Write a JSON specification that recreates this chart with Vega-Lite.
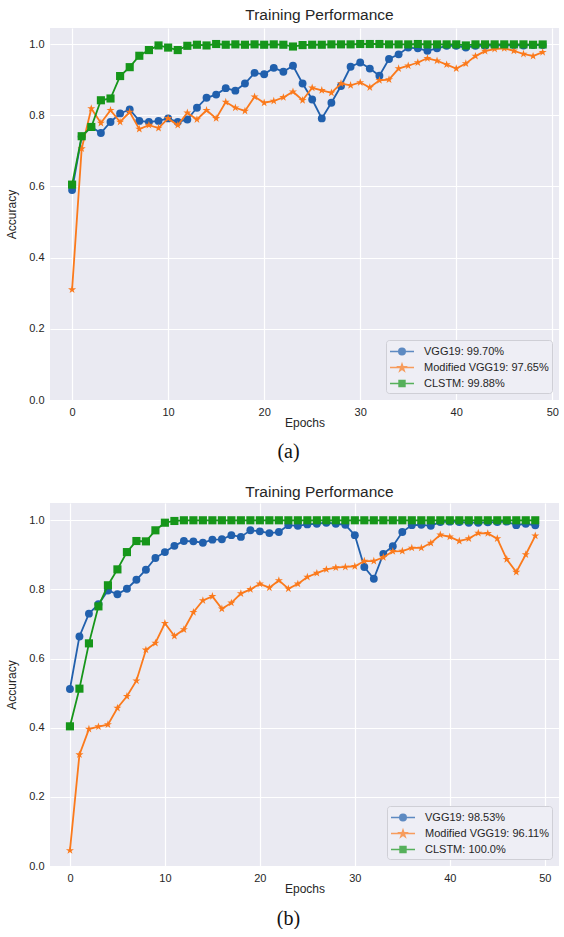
{
  "$schema": "https://vega.github.io/schema/vega-lite/v6.json",
  "background": "white",
  "padding": {"left": 5, "top": 7, "right": 0, "bottom": 0},
  "spacing": 12,
  "resolve": {"scale": {"color": "independent", "stroke": "independent", "shape": "independent"}, "legend": {"color": "independent", "stroke": "independent", "shape": "independent"}},
  "datasets": {
    "a": [
      {"e":0,"v":0.59,"m":0.31,"c":0.605},{"e":1,"v":0.74,"m":0.706,"c":0.741},{"e":2,"v":0.767,"m":0.819,"c":0.767},{"e":3,"v":0.75,"m":0.778,"c":0.842},{"e":4,"v":0.781,"m":0.814,"c":0.847},
      {"e":5,"v":0.805,"m":0.781,"c":0.91},{"e":6,"v":0.816,"m":0.809,"c":0.935},{"e":7,"v":0.784,"m":0.761,"c":0.967},{"e":8,"v":0.781,"m":0.772,"c":0.983},{"e":9,"v":0.784,"m":0.764,"c":0.996},
      {"e":10,"v":0.791,"m":0.791,"c":0.99},{"e":11,"v":0.781,"m":0.772,"c":0.983},{"e":12,"v":0.788,"m":0.807,"c":0.995},{"e":13,"v":0.821,"m":0.788,"c":0.998},{"e":14,"v":0.849,"m":0.814,"c":0.996},
      {"e":15,"v":0.858,"m":0.791,"c":1.0},{"e":16,"v":0.876,"m":0.837,"c":0.998},{"e":17,"v":0.869,"m":0.821,"c":0.999},{"e":18,"v":0.889,"m":0.812,"c":0.998},{"e":19,"v":0.919,"m":0.852,"c":0.999},
      {"e":20,"v":0.915,"m":0.835,"c":0.998},{"e":21,"v":0.933,"m":0.84,"c":0.999},{"e":22,"v":0.922,"m":0.85,"c":0.998},{"e":23,"v":0.939,"m":0.866,"c":0.993},{"e":24,"v":0.889,"m":0.842,"c":0.997},
      {"e":25,"v":0.844,"m":0.877,"c":0.998},{"e":26,"v":0.791,"m":0.87,"c":0.998},{"e":27,"v":0.835,"m":0.863,"c":0.999},{"e":28,"v":0.882,"m":0.889,"c":0.999},{"e":29,"v":0.936,"m":0.884,"c":0.999},
      {"e":30,"v":0.948,"m":0.892,"c":1.0},{"e":31,"v":0.931,"m":0.878,"c":1.0},{"e":32,"v":0.911,"m":0.898,"c":1.0},{"e":33,"v":0.958,"m":0.9,"c":0.999},{"e":34,"v":0.971,"m":0.931,"c":0.999},
      {"e":35,"v":0.99,"m":0.939,"c":0.999},{"e":36,"v":0.988,"m":0.948,"c":1.0},{"e":37,"v":0.981,"m":0.96,"c":0.999},{"e":38,"v":0.988,"m":0.953,"c":0.999},{"e":39,"v":0.995,"m":0.942,"c":0.999},
      {"e":40,"v":0.995,"m":0.931,"c":0.999},{"e":41,"v":0.99,"m":0.945,"c":0.996},{"e":42,"v":0.995,"m":0.966,"c":0.999},{"e":43,"v":0.995,"m":0.98,"c":0.999},{"e":44,"v":0.996,"m":0.986,"c":0.999},
      {"e":45,"v":0.996,"m":0.988,"c":0.999},{"e":46,"v":0.997,"m":0.981,"c":0.999},{"e":47,"v":0.996,"m":0.972,"c":0.999},{"e":48,"v":0.997,"m":0.966,"c":0.998},{"e":49,"v":0.997,"m":0.977,"c":0.9988}
    ],
    "b": [
      {"e":0,"v":0.512,"m":0.045,"c":0.404},{"e":1,"v":0.664,"m":0.322,"c":0.513},{"e":2,"v":0.73,"m":0.396,"c":0.644},{"e":3,"v":0.757,"m":0.403,"c":0.751},{"e":4,"v":0.797,"m":0.409,"c":0.812},
      {"e":5,"v":0.786,"m":0.457,"c":0.858},{"e":6,"v":0.802,"m":0.491,"c":0.908},{"e":7,"v":0.828,"m":0.536,"c":0.94},{"e":8,"v":0.857,"m":0.625,"c":0.939},{"e":9,"v":0.891,"m":0.645,"c":0.971},
      {"e":10,"v":0.908,"m":0.702,"c":0.993},{"e":11,"v":0.926,"m":0.665,"c":0.998},{"e":12,"v":0.94,"m":0.684,"c":1.0},{"e":13,"v":0.939,"m":0.734,"c":1.0},{"e":14,"v":0.935,"m":0.768,"c":1.0},
      {"e":15,"v":0.944,"m":0.78,"c":1.0},{"e":16,"v":0.945,"m":0.744,"c":1.0},{"e":17,"v":0.957,"m":0.761,"c":1.0},{"e":18,"v":0.952,"m":0.788,"c":1.0},{"e":19,"v":0.971,"m":0.8,"c":1.0},
      {"e":20,"v":0.968,"m":0.816,"c":1.0},{"e":21,"v":0.963,"m":0.805,"c":1.0},{"e":22,"v":0.966,"m":0.826,"c":1.0},{"e":23,"v":0.986,"m":0.802,"c":1.0},{"e":24,"v":0.984,"m":0.816,"c":1.0},
      {"e":25,"v":0.988,"m":0.836,"c":1.0},{"e":26,"v":0.99,"m":0.847,"c":1.0},{"e":27,"v":0.993,"m":0.858,"c":1.0},{"e":28,"v":0.99,"m":0.863,"c":1.0},{"e":29,"v":0.987,"m":0.865,"c":1.0},
      {"e":30,"v":0.957,"m":0.867,"c":1.0},{"e":31,"v":0.865,"m":0.882,"c":1.0},{"e":32,"v":0.831,"m":0.882,"c":1.0},{"e":33,"v":0.903,"m":0.893,"c":1.0},{"e":34,"v":0.925,"m":0.91,"c":1.0},
      {"e":35,"v":0.966,"m":0.911,"c":1.0},{"e":36,"v":0.986,"m":0.92,"c":1.0},{"e":37,"v":0.987,"m":0.92,"c":1.0},{"e":38,"v":0.984,"m":0.934,"c":1.0},{"e":39,"v":0.995,"m":0.958,"c":1.0},
      {"e":40,"v":0.996,"m":0.952,"c":1.0},{"e":41,"v":0.995,"m":0.94,"c":1.0},{"e":42,"v":0.993,"m":0.947,"c":1.0},{"e":43,"v":0.993,"m":0.963,"c":1.0},{"e":44,"v":0.994,"m":0.962,"c":1.0},
      {"e":45,"v":0.995,"m":0.947,"c":1.0},{"e":46,"v":0.996,"m":0.887,"c":1.0},{"e":47,"v":0.986,"m":0.85,"c":1.0},{"e":48,"v":0.99,"m":0.901,"c":1.0},{"e":49,"v":0.9853,"m":0.955,"c":1.0}
    ]
  },
  "vconcat": [
    {
      "title": {"text": "Training Performance"},
      "width": 509, "height": 372,
      "data": {"name": "a"},
      "transform": [{"fold": ["v","m","c"], "as": ["k","acc"]}],
      "encoding": {
        "x": {"field": "e", "type": "quantitative", "scale": {"domain": [-2.3, 50.7], "nice": false, "zero": false}, "axis": {"values": [0,10,20,30,40,50], "title": "Epochs"}},
        "y": {"field": "acc", "type": "quantitative", "scale": {"domain": [0, 1.045], "nice": false}, "axis": {"values": [0,0.2,0.4,0.6,0.8,1.0], "format": ".1f", "title": "Accuracy"}}
      },
      "layer": [
        {"transform": [{"filter": "datum.k==='v'"}], "mark": {"type": "line", "color": "#2160ad", "strokeWidth": 1.8}, "encoding": {}},
        {"transform": [{"filter": "datum.k==='v'"}], "mark": {"type": "point", "filled": true, "opacity": 1, "color": "#2160ad", "shape": "circle", "size": 62}, "encoding": {}},
        {"transform": [{"filter": "datum.k==='m'"}], "mark": {"type": "line", "color": "#fb7a1c", "strokeWidth": 1.8}, "encoding": {}},
        {"transform": [{"filter": "datum.k==='m'"}], "mark": {"type": "point", "filled": true, "opacity": 1, "color": "#fb7a1c", "shape": "M0,-1L0.225,-0.309L0.951,-0.309L0.363,0.118L0.588,0.809L0,0.382L-0.588,0.809L-0.363,0.118L-0.951,-0.309L-0.225,-0.309Z", "size": 72}, "encoding": {}},
        {"transform": [{"filter": "datum.k==='c'"}], "mark": {"type": "line", "color": "#16961a", "strokeWidth": 1.8}, "encoding": {}},
        {"transform": [{"filter": "datum.k==='c'"}], "mark": {"type": "point", "filled": true, "opacity": 1, "color": "#16961a", "shape": "square", "size": 66}, "encoding": {}},
        {"transform": [{"filter": "false"}], "mark": {"type": "point", "filled": true, "size": 225, "strokeWidth": 1.6},
          "encoding": {
            "color": {"field": "k", "type": "nominal", "scale": {"domain": ["v","m","c"], "range": ["#2160ad","#fb7a1c","#16961a"]}, "legend": {"title": null, "labelExpr": "datum.value=='v'?'VGG19: 99.70%':datum.value=='m'?'Modified VGG19: 97.65%':'CLSTM: 99.88%'"}},
            "stroke": {"field": "k", "type": "nominal", "scale": {"domain": ["v","m","c"], "range": ["#2160ad","#fb7a1c","#16961a"]}, "legend": {"title": null, "labelExpr": "datum.value=='v'?'VGG19: 99.70%':datum.value=='m'?'Modified VGG19: 97.65%':'CLSTM: 99.88%'"}},
            "shape": {"field": "k", "type": "nominal", "scale": {"domain": ["v","m","c"], "range": ["M-1,0H2.2M1.027,0A0.427,0.427,0,1,1,0.173,0A0.427,0.427,0,1,1,1.027,0Z","M-1,0H2.2M0.6,-0.434L0.708,-0.102L1.056,-0.102L0.774,0.103L0.882,0.434L0.6,0.229L0.318,0.434L0.426,0.103L0.144,-0.102L0.492,-0.102Z","M-1,0H2.2M0.213,-0.387H0.987V0.387H0.213Z"]}, "legend": {"title": null, "labelExpr": "datum.value=='v'?'VGG19: 99.70%':datum.value=='m'?'Modified VGG19: 97.65%':'CLSTM: 99.88%'"}}
          }
        }
      ]
    },
    {
      "width": 509, "height": 32,
      "data": {"values": [{"t": "(a)"}]},
      "mark": {"type": "text", "font": "Liberation Serif", "fontSize": 20, "color": "#111111", "dx": -16, "dy": -4},
      "encoding": {"text": {"field": "t", "type": "nominal"}}
    },
    {
      "title": {"text": "Training Performance", "offset": 3},
      "width": 509, "height": 363,
      "data": {"name": "b"},
      "transform": [{"fold": ["v","m","c"], "as": ["k","acc"]}],
      "encoding": {
        "x": {"field": "e", "type": "quantitative", "scale": {"domain": [-2.1, 51.5], "nice": false, "zero": false}, "axis": {"values": [0,10,20,30,40,50], "title": "Epochs"}},
        "y": {"field": "acc", "type": "quantitative", "scale": {"domain": [0, 1.05], "nice": false}, "axis": {"values": [0,0.2,0.4,0.6,0.8,1.0], "format": ".1f", "title": "Accuracy"}}
      },
      "layer": [
        {"transform": [{"filter": "datum.k==='v'"}], "mark": {"type": "line", "color": "#2160ad", "strokeWidth": 1.8}, "encoding": {}},
        {"transform": [{"filter": "datum.k==='v'"}], "mark": {"type": "point", "filled": true, "opacity": 1, "color": "#2160ad", "shape": "circle", "size": 62}, "encoding": {}},
        {"transform": [{"filter": "datum.k==='m'"}], "mark": {"type": "line", "color": "#fb7a1c", "strokeWidth": 1.8}, "encoding": {}},
        {"transform": [{"filter": "datum.k==='m'"}], "mark": {"type": "point", "filled": true, "opacity": 1, "color": "#fb7a1c", "shape": "M0,-1L0.225,-0.309L0.951,-0.309L0.363,0.118L0.588,0.809L0,0.382L-0.588,0.809L-0.363,0.118L-0.951,-0.309L-0.225,-0.309Z", "size": 72}, "encoding": {}},
        {"transform": [{"filter": "datum.k==='c'"}], "mark": {"type": "line", "color": "#16961a", "strokeWidth": 1.8}, "encoding": {}},
        {"transform": [{"filter": "datum.k==='c'"}], "mark": {"type": "point", "filled": true, "opacity": 1, "color": "#16961a", "shape": "square", "size": 66}, "encoding": {}},
        {"transform": [{"filter": "false"}], "mark": {"type": "point", "filled": true, "size": 225, "strokeWidth": 1.6},
          "encoding": {
            "color": {"field": "k", "type": "nominal", "scale": {"domain": ["v","m","c"], "range": ["#2160ad","#fb7a1c","#16961a"]}, "legend": {"title": null, "labelExpr": "datum.value=='v'?'VGG19: 98.53%':datum.value=='m'?'Modified VGG19: 96.11%':'CLSTM: 100.0%'"}},
            "stroke": {"field": "k", "type": "nominal", "scale": {"domain": ["v","m","c"], "range": ["#2160ad","#fb7a1c","#16961a"]}, "legend": {"title": null, "labelExpr": "datum.value=='v'?'VGG19: 98.53%':datum.value=='m'?'Modified VGG19: 96.11%':'CLSTM: 100.0%'"}},
            "shape": {"field": "k", "type": "nominal", "scale": {"domain": ["v","m","c"], "range": ["M-1,0H2.2M1.027,0A0.427,0.427,0,1,1,0.173,0A0.427,0.427,0,1,1,1.027,0Z","M-1,0H2.2M0.6,-0.434L0.708,-0.102L1.056,-0.102L0.774,0.103L0.882,0.434L0.6,0.229L0.318,0.434L0.426,0.103L0.144,-0.102L0.492,-0.102Z","M-1,0H2.2M0.213,-0.387H0.987V0.387H0.213Z"]}, "legend": {"title": null, "labelExpr": "datum.value=='v'?'VGG19: 98.53%':datum.value=='m'?'Modified VGG19: 96.11%':'CLSTM: 100.0%'"}}
          }
        }
      ]
    },
    {
      "width": 509, "height": 20,
      "data": {"values": [{"t": "(b)"}]},
      "mark": {"type": "text", "font": "Liberation Serif", "fontSize": 20, "color": "#111111", "dx": -16, "dy": 3},
      "encoding": {"text": {"field": "t", "type": "nominal"}}
    }
  ],
  "config": {
    "font": "Liberation Sans",
    "view": {"fill": "#eaeaf2", "stroke": null},
    "axis": {"domain": false, "ticks": false, "grid": true, "gridColor": "#ffffff", "gridWidth": 1.2, "labelFont": "Liberation Sans", "labelFontSize": 11, "labelColor": "#262626", "labelPadding": 6, "titleFont": "Liberation Sans", "titleFontSize": 12, "titleFontWeight": "normal", "titleColor": "#262626"},
    "axisX": {"titlePadding": 0},
    "axisY": {"titlePadding": 10},
    "title": {"font": "Liberation Sans", "fontSize": 15.5, "fontWeight": "normal", "color": "#262626", "offset": 5, "dx": 15},
    "legend": {"orient": "bottom-right", "offset": 7, "padding": 3, "fillColor": "#eeeef5", "strokeColor": "#cfcfd6", "cornerRadius": 3, "labelFont": "Liberation Sans", "labelFontSize": 11, "labelColor": "#262626", "symbolStrokeWidth": 1.6, "rowPadding": 1, "labelOffset": 18, "symbolSize": 225}
  }
}
